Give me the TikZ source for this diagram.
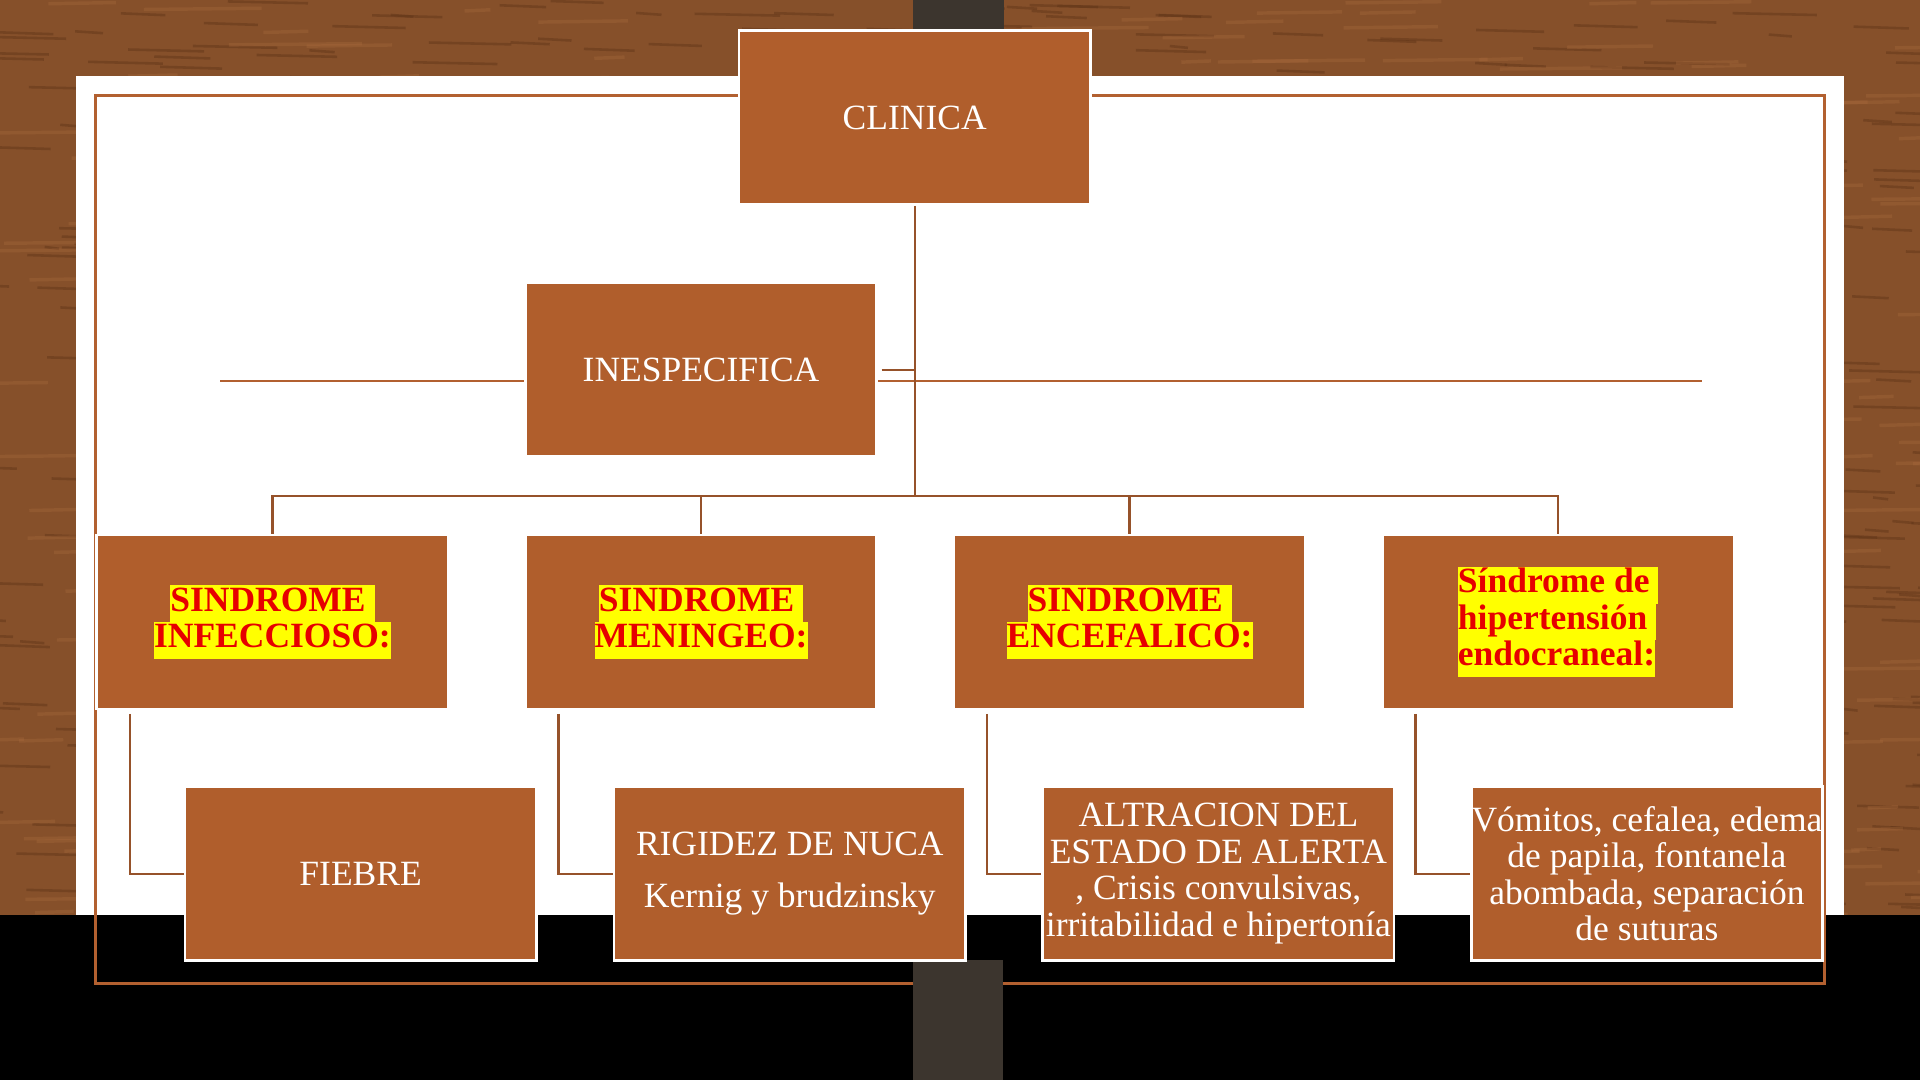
\documentclass[tikz,border=0pt]{standalone}
\usepackage{fontspec}
\setmainfont{Liberation Serif}
\usetikzlibrary{calc}

\definecolor{woodbase}{RGB}{134,80,42}
\definecolor{wooddark}{RGB}{96,52,24}
\definecolor{woodlight}{RGB}{168,106,60}
\definecolor{stripdark}{RGB}{60,53,46}
\definecolor{boxfill}{RGB}{176,94,44}
\definecolor{linkbrown}{RGB}{150,82,42}
\definecolor{framebrown}{RGB}{178,96,48}
\definecolor{synred}{RGB}{230,0,0}
\definecolor{hlyellow}{RGB}{255,255,0}

\newcommand{\hl}[1]{{\setlength{\fboxsep}{0pt}\colorbox{hlyellow}{\strut #1}}}

\tikzset{
  box/.style={draw=white, line width=1.2pt, fill=boxfill, minimum width=5.74cm, minimum height=2.84cm,
    inner sep=0pt, align=center, text=white, font=\fontsize{16.5}{17}\selectfont},
  synd/.style={box, text=synred, font=\bfseries\fontsize{16.5}{17}\selectfont},
  link/.style={draw=linkbrown, line width=1.1pt},
  assist/.style={draw=framebrown, line width=1.1pt},
  frame/.style={draw=framebrown, line width=1.6pt},
  woodline/.style={draw=wooddark, line width=1.2pt, opacity=.45},
  woodlite/.style={draw=woodlight, line width=1.6pt, opacity=.35}
}

\begin{document}
\begin{tikzpicture}[x=0.02cm,y=-0.02cm]
            \useasboundingbox (0,0) rectangle (1568,882);

            % wood behind the panel
            \fill[woodbase] (0,0) rectangle (1568,882);
            \begin{scope}
              \clip (0,0) rectangle (1568,62) (0,0) rectangle (62,750) (1506,0) rectangle (1568,750);
              \pgfmathsetseed{42}
              \foreach \i in {1,...,700}{
                \pgfmathsetmacro{\wx}{rnd*1620-40}
                \pgfmathsetmacro{\wy}{rnd*750}
                \pgfmathsetmacro{\wl}{10+rnd*60}
                \draw[woodline] (\wx,\wy) -- ++(\wl,1.5);
              }
              \foreach \i in {1,...,400}{
                \pgfmathsetmacro{\wx}{rnd*1620-40}
                \pgfmathsetmacro{\wy}{rnd*750}
                \pgfmathsetmacro{\wl}{20+rnd*90}
                \draw[woodlite] (\wx,\wy) -- ++(\wl,-1);
              }
            \end{scope}
            \fill[stripdark] (746,0) rectangle (820,30);
            \fill[white] (62,62) rectangle (1506,747);
            \fill[black] (0,747) rectangle (1568,882);
            \draw[frame] (78,78) rectangle (1490,803);
            \fill[stripdark] (746,784) rectangle (819,882);

            % line behind INESPECIFICA
            \coordinate (asl) at (180,311);
            \coordinate (asr) at (1390,311);
            \draw[assist] (asl) -- (asr);

            \node[box] (clinica) at (747,96) {CLINICA};
            \node[box] (ines) at (572.5,302) {INESPECIFICA};

            \node[synd] (inf) at (222.5,508) {\hl{SINDROME\ }\\\hl{INFECCIOSO:}};
            \node[synd] (men) at (572.5,508) {\hl{SINDROME\ }\\\hl{MENINGEO:}};
            \node[synd] (enc) at (922.5,508) {\hl{SINDROME\ }\\\hl{ENCEFALICO:}};
            \node[synd, align=left] (hip) at (1272.5,508) {\hl{Síndrome de\ }\\\hl{hipertensión\ }\\\hl{endocraneal:}};

            \node[box] (fiebre) at (294.5,713.5) {FIEBRE};
            \node[box] (rigidez) at (645,713.5) {RIGIDEZ DE NUCA\\[7pt]Kernig y brudzinsky};
            \node[box] (altra) at (995,713.5) {ALTRACION DEL\\ESTADO DE ALERTA\\, Crisis convulsivas,\\irritabilidad e hipertonía};
            \node[box] (vomit) at (1345,713.5) {Vómitos, cefalea, edema\\de papila, fontanela\\abombada, separación\\de suturas};

            \coordinate (bus) at (747,405);
            \draw[link] (clinica.south) -- (bus);
            \foreach \n in {inf,men,enc,hip}
              \draw[link] (bus) -| (\n.north);
            \draw[link] ([xshift=0.06cm]ines.east) -- (ines.east -| clinica.south);

            \draw[link] ([shift={(28,3)}]inf.south west) |- (fiebre.west);
            \draw[link] ([shift={(28,3)}]men.south west) |- (rigidez.west);
            \draw[link] ([shift={(28,3)}]enc.south west) |- (altra.west);
            \draw[link] ([shift={(28,3)}]hip.south west) |- (vomit.west);
        \end{tikzpicture}
\end{document}
